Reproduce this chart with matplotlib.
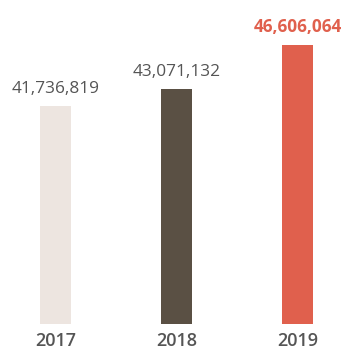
import matplotlib
matplotlib.use("Agg")
import matplotlib.pyplot as plt
from matplotlib.transforms import blended_transform_factory

years = ["2017", "2018", "2019"]
values = [41736819, 43071132, 46606064]
bar_colors = ["#EDE5E0", "#5A5044", "#E0604D"]
label_colors = ["#555555", "#555555", "#E0604D"]
label_weights = ["normal", "normal", "bold"]

plt.rcParams['font.family'] = ['Open Sans', 'DejaVu Sans']

fig = plt.figure(figsize=(3.44, 3.5), dpi=100)
ax = fig.add_axes([0, 26/350, 1, 324/350])
x = list(range(len(years)))
ax.bar(x, values, width=0.256, color=bar_colors, bottom=0)
ax.set_xlim(-55.5/121, 2 + (344 - 297.5)/121)
ax.set_ylim(24.36e6, 24.36e6 + 324/12.55*1e6)
ax.axis('off')

for xi, v, c, w in zip(x, values, label_colors, label_weights):
    ax.annotate(f"{v:,}", (xi, v), xytext=(0, 9.5), textcoords='offset points',
                ha='center', va='baseline', fontsize=12.4, color=c, fontweight=w)

tr = blended_transform_factory(ax.transData, fig.transFigure)
for xi, yr in zip(x, years):
    ax.text(xi, 0.5/350, yr, transform=tr, ha='center', va='bottom',
            fontsize=13, color="#555555", fontweight='semibold')

fig.savefig("out.png", dpi=100)
